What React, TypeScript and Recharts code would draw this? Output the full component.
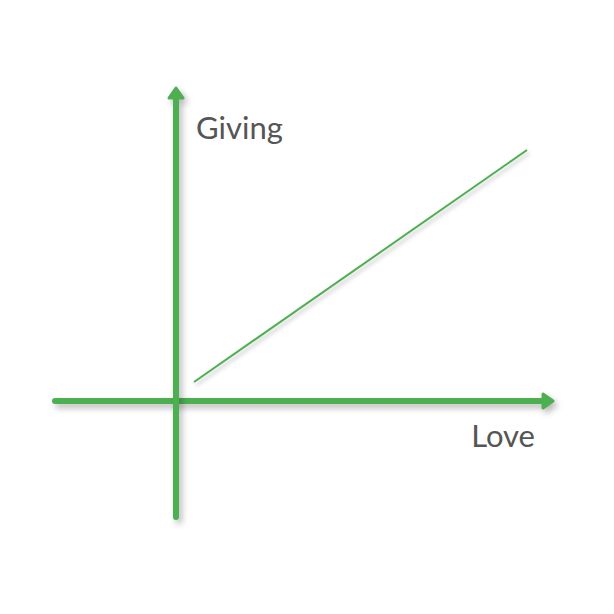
import React from 'react';
import { LineChart, Line, XAxis, YAxis, ReferenceLine } from 'recharts';

// one unit = 100px on screen, origin where the two axes cross
const love = [0.18, 3.51];
const giving = [0.19, 2.51];
const xDomain = [-1.21, 3.77];
const yDomain = [-1.16, 3.13];

const data = love.map((l, i) => ({ love: l, giving: giving[i] }));

const GREEN = '#4caf50';
const shadow = 'drop-shadow(3px 4px 3px rgba(0,0,0,0.28))';

const Arrow = (props: any) => {
  const { x1, y1, x2, y2, label, labelDx, labelDy, anchor } = props;
  const ang = Math.atan2(y2 - y1, x2 - x1);
  const L = 10;
  const W = 7;
  const bx = x2 - L * Math.cos(ang);
  const by = y2 - L * Math.sin(ang);
  const px = -Math.sin(ang) * W;
  const py = Math.cos(ang) * W;
  return (
    <g>
      <g style={{ filter: shadow }}>
        <line x1={x1} y1={y1} x2={bx} y2={by} stroke={GREEN} strokeWidth={6} strokeLinecap="round" />
        <polygon
          points={`${x2},${y2} ${bx + px},${by + py} ${bx - px},${by - py}`}
          fill={GREEN}
          stroke={GREEN}
          strokeWidth={3}
          strokeLinejoin="round"
        />
      </g>
      <text
        x={x2 + labelDx}
        y={y2 + labelDy}
        textAnchor={anchor}
        fontFamily="Lato, sans-serif"
        fontSize={31}
        fill="#555"
      >
        {label}
      </text>
    </g>
  );
};

const App: React.FC = () => {
  return (
    <div style={{ width: 598, height: 598, background: '#fff' }}>
      <LineChart width={598} height={598} data={data} margin={{ top: 80, right: 53, left: 47, bottom: 89 }}>
        <XAxis type="number" dataKey="love" domain={xDomain} allowDataOverflow hide />
        <YAxis type="number" domain={yDomain} allowDataOverflow hide />
        <ReferenceLine
          segment={[{ x: xDomain[0], y: 0 }, { x: xDomain[1], y: 0 }]}
          shape={(p: any) => <Arrow {...p} label="Love" labelDx={-18} labelDy={46} anchor="end" />}
          ifOverflow="visible"
        />
        <ReferenceLine
          segment={[{ x: 0, y: yDomain[0] }, { x: 0, y: yDomain[1] }]}
          shape={(p: any) => <Arrow {...p} label="Giving" labelDx={20} labelDy={51} anchor="start" />}
          ifOverflow="visible"
        />
        <Line
          dataKey="giving"
          stroke={GREEN}
          strokeWidth={2}
          dot={false}
          isAnimationActive={false}
          style={{ filter: 'drop-shadow(2px 3px 2px rgba(0,0,0,0.25))' }}
        />
      </LineChart>
    </div>
  );
};

export default App;
